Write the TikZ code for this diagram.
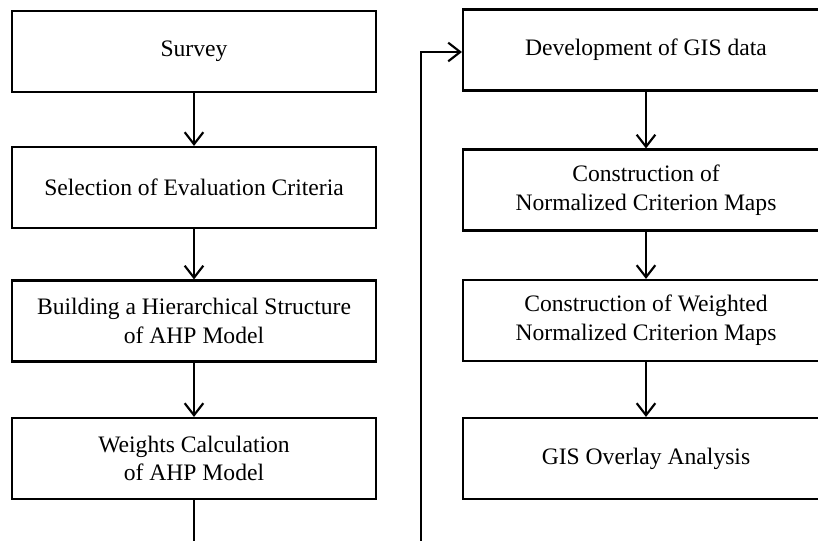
\documentclass[tikz,border=0pt]{standalone}
\usepackage{fontspec}
\setmainfont{Liberation Serif}
\usetikzlibrary{arrows.meta}
\tikzset{
  stepbox/.style={draw,line width=1.6pt,minimum height=60.75pt,align=center,
    font=\fontsize{17.7}{21.5}\selectfont,inner sep=0pt},
  leftbox/.style={stepbox,minimum width=273pt},
  rightbox/.style={stepbox,minimum width=274.5pt},
  flow/.style={line width=1.6pt,-{Straight Barb[length=9pt,width=14pt,line width=1.6pt]}}
}
\begin{document}
\begin{tikzpicture}[x=0.75pt,y=-0.75pt]
\useasboundingbox (0,0) rectangle (818,541);
\clip (0,0) rectangle (818,541);
% left column
\node[leftbox] (survey) at (194,51.5) {Survey};
\node[leftbox] (select) at (194,187.5) {Selection of Evaluation Criteria};
\node[leftbox] (hier) at (194,321) {Building a Hierarchical Structure\\of AHP Model};
\node[leftbox] (weights) at (194,458.5) {Weights Calculation\\of AHP Model};
% right column
\node[rightbox] (gisdata) at (646,50) {Development of GIS data};
\node[rightbox] (norm) at (646,190) {Construction of\\Normalized Criterion Maps};
\node[rightbox] (wnorm) at (646,320.5) {Construction of Weighted\\Normalized Criterion Maps};
\node[rightbox] (overlay) at (646,458.5) {GIS Overlay Analysis};
\foreach \a/\b in {survey/select,select/hier,hier/weights,gisdata/norm,norm/wnorm,wnorm/overlay}
  \draw[flow] (\a) -- (\b);
% link between the columns (runs below the crop)
\coordinate (low) at (194,570);
\draw[flow] (weights.south) -- (low) -| (421,52) -- (gisdata.west |- 0,52);
\end{tikzpicture}
\end{document}
